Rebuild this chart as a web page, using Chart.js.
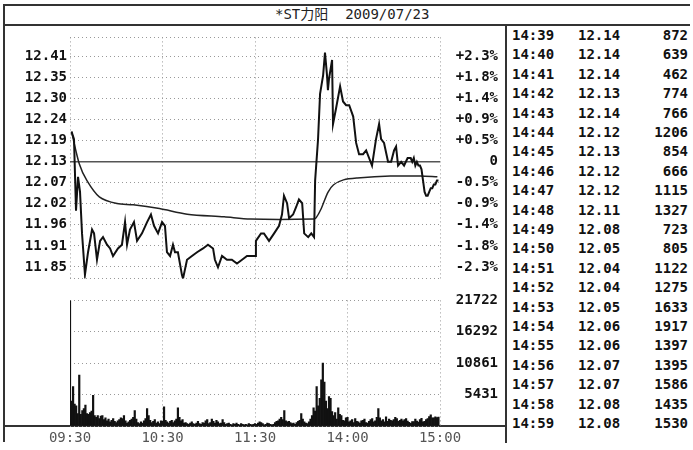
<!DOCTYPE html>
<html>
<head>
<meta charset="utf-8">
<script src="https://cdn.jsdelivr.net/npm/chart.js@4"></script>
<style>
  body { margin: 0; background: #fff; width: 693px; height: 450px; position: relative; overflow: hidden;
         font-family: "DejaVu Sans Mono", "Noto Sans CJK SC", monospace; color: #111; }
  .ln { position: absolute; background: #333; }
  canvas { position: absolute; }
  #priceChart { left: 5px; top: 26px; }
  #volChart { left: 5px; top: 289px; }
  #title { position: absolute; left: 275px; top: 5px; font-size: 14px; line-height: 19px; white-space: pre; color: #222; }
  .row { position: absolute; font-size: 14px; line-height: 18px; height: 18px; font-weight: bold; }
  .row span { position: absolute; white-space: pre; }
</style>
</head>
<body>
<div class="ln" style="left:4px;top:4px;width:686px;height:2px"></div>
<div class="ln" style="left:4px;top:24px;width:686px;height:2px"></div>
<div class="ln" style="left:3px;top:4px;width:2px;height:438px"></div>
<div class="ln" style="left:505px;top:25px;width:2px;height:418px"></div>
<div class="ln" style="left:4px;top:425px;width:502px;height:2px"></div>
<div id="title">*ST力阳  2009/07/23</div>
<canvas id="priceChart" width="500" height="264"></canvas>
<canvas id="volChart" width="500" height="161"></canvas>
<div id="table"></div>
<script>
// previous close and the % step between grid rows
const prevClose = 12.13;
const pctStep = 0.0046;

// tick labels, top to bottom as printed
const priceTickLabels = ['12.41', '12.35', '12.30', '12.24', '12.19', '12.13', '12.07', '12.02', '11.96', '11.91', '11.85'];
const pctTickLabels = ['+2.3%', '+1.8%', '+1.4%', '+0.9%', '+0.5%', '0', '-0.5%', '-0.9%', '-1.4%', '-1.8%', '-2.3%'];
const volTicks = [5431, 10861, 16292, 21722];
const volTickLabels = ['5431', '10861', '16292', '21722'];
const timeTickMinutes = [0, 60, 120, 180, 240];
const timeTickLabels = ['09:30', '10:30', '11:30', '14:00', '15:00'];

// price line (minutes from 09:30, trading time only)
const priceMinutes = [1, 2.6, 3.9, 5.2, 6.5, 7.8, 9.7, 11.7, 14.3, 15.6, 17.5, 19.5, 21.4, 24, 26, 27.9, 31.1, 33.7, 35.7, 37,
  38.9, 41.5, 43.5, 46.7, 50, 52.5, 54.5, 57.1, 59.7, 61.6, 62.9, 64.9, 66.8, 68.1, 70, 72.6, 73.3, 75.9, 79.1, 82.4,
  86.3, 89.5, 92.8, 94, 96, 98.6, 101.8, 105, 108.3, 111.6, 114.8, 118, 120,
  120.6, 123.9, 125.8, 129.1, 132.4, 135.6, 137.5, 138.8, 140.8, 142.1, 144.7, 146.7, 148.5, 150.6, 151.9, 154.5, 156.5, 158.3,
  159, 160.9, 162.2, 164.2, 165.4, 166.7, 167.3, 168, 170, 170.6, 172.5, 175.2, 177.1, 179.1, 181.1, 183.7, 185.6, 187.5,
  190.1, 192.1, 194, 195.9, 198.5, 200.5, 201.8, 203.7, 206.3, 208.3, 210.2, 211.5, 212.8, 214.8, 216.7];
const priceValues = [12.21, 12.19, 12.00, 12.09, 12.05, 11.94, 11.83, 11.89, 11.95, 11.94, 11.87, 11.92, 11.93, 11.91, 11.90, 11.88, 11.90, 11.91, 11.97, 11.91,
  11.95, 11.97, 11.92, 11.94, 11.97, 11.99, 11.96, 11.94, 11.97, 11.96, 11.89, 11.88, 11.91, 11.89, 11.89, 11.83, 11.82, 11.87, 11.88, 11.89,
  11.90, 11.91, 11.90, 11.87, 11.85, 11.88, 11.87, 11.87, 11.86, 11.87, 11.88, 11.88, 11.88,
  11.92, 11.94, 11.94, 11.92, 11.94, 11.96, 11.99, 12.04, 12.02, 11.98, 11.99, 12.01, 12.03, 12.02, 11.94, 11.93, 11.94, 11.93,
  12.08, 12.19, 12.31, 12.36, 12.42, 12.36, 12.32, 12.35, 12.40, 12.23, 12.27, 12.33, 12.29, 12.28, 12.28, 12.25, 12.18, 12.15,
  12.15, 12.16, 12.14, 12.12, 12.19, 12.23, 12.19, 12.18, 12.13, 12.13, 12.16, 12.17, 12.12, 12.13, 12.12];

// average price line
const avgMinutes = [1, 6, 11, 19, 30.5, 41, 58, 76, 100, 117, 158, 159.6, 163, 167.3, 171, 177.4, 186.4, 207.8, 227.3, 238.3];
const avgValues = [12.21, 12.125, 12.08, 12.037, 12.019, 12.016, 12.006, 11.991, 11.984, 11.978, 11.978, 11.981, 12.006, 12.049, 12.069, 12.082, 12.087, 12.092, 12.092, 12.090];

// minute table on the right
const tableTimes = ['14:39', '14:40', '14:41', '14:42', '14:43', '14:44', '14:45', '14:46', '14:47', '14:48', '14:49',
  '14:50', '14:51', '14:52', '14:53', '14:54', '14:55', '14:56', '14:57', '14:58', '14:59'];
const tablePrices = [12.14, 12.14, 12.14, 12.13, 12.14, 12.12, 12.13, 12.12, 12.12, 12.11, 12.08,
  12.05, 12.04, 12.04, 12.05, 12.06, 12.06, 12.07, 12.07, 12.08, 12.08];
const tableVolumes = [872, 639, 462, 774, 766, 1206, 854, 666, 1115, 1327, 723,
  805, 1122, 1275, 1633, 1917, 1397, 1395, 1586, 1435, 1530];

// per-minute volume, 09:30..11:30 and 13:01..14:38
const volMorning = [21722, 4300, 6800, 3800, 3500, 2150, 8800, 2000, 2650, 3000,
  3600, 2150, 2000, 2300, 2600, 5300, 1800, 1500, 1800, 1300,
  1700, 1800, 1100, 1400, 900, 1200, 700, 1000, 1300, 800,
  600, 900, 1100, 1400, 1300, 1800, 900, 500, 700, 1000,
  1200, 1500, 2650, 1200, 600, 400, 700, 500, 900, 1300,
  3000, 1800, 1000, 600, 800, 1100, 500, 700, 400, 900,
  800, 3300, 1000, 700, 500, 800, 1000, 600, 900, 1200,
  3150, 1500, 900, 1100, 500, 600, 400, 300, 500, 700,
  400, 300, 500, 800, 400, 300, 600, 500, 900, 1100,
  400, 600, 1200, 800, 500, 1000, 700, 400, 500, 1100,
  600, 300, 400, 500, 300, 200, 400, 300, 500, 300,
  200, 400, 300, 200, 300, 200, 400, 300, 200, 300, 400];
const volAfternoon = [300, 500, 700, 600, 400, 200, 300, 500, 400, 300,
  200, 300, 600, 800, 900, 1200, 1500, 1100, 2650, 900,
  700, 800, 600, 400, 500, 300, 600, 800, 1000, 2150,
  1200, 700, 500, 400, 700, 1200, 1800, 3150,
  2600, 6800, 3500, 4800, 8000, 10900, 7600, 4300, 3000, 5100, 4800, 2500,
  1800, 2300, 1200, 3150, 2000, 1800, 1000, 900, 1400, 1500,
  700, 900, 1100, 600, 1300, 800, 700, 500, 900, 1000,
  1200, 600, 500, 800, 1100, 1300, 700, 900, 1500, 3000,
  1400, 900, 1100, 700, 1600, 800, 1200, 1000, 900, 1100,
  1500, 1300, 800, 1000, 1200, 900, 1100, 1300];

function toMinute(t) {
  const h = +t.slice(0, 2), m = +t.slice(3, 5);
  return h >= 13 ? 120 + (h - 13) * 60 + m : (h - 9) * 60 + m - 30;
}
const tableMinutes = tableTimes.map(toMinute);

const priceData = priceMinutes.map((m, i) => ({ x: m, y: priceValues[i] }))
  .concat(tableMinutes.map((m, i) => ({ x: m, y: tablePrices[i] })));
const avgData = avgMinutes.map((m, i) => ({ x: m, y: avgValues[i] }));
const volData = volMorning.map((v, i) => ({ x: i, y: v }))
  .concat(volAfternoon.map((v, i) => ({ x: 121 + i, y: v })))
  .concat(tableMinutes.map((m, i) => ({ x: m, y: tableVolumes[i] })));

const levels = [];
for (let k = -5; k <= 5; k++) levels.push(prevClose * (1 + k * pctStep));
const yMin = 11.82, yMax = 12.46;

Chart.defaults.font.family = '"DejaVu Sans Mono", monospace';
Chart.defaults.font.size = 14;
Chart.defaults.color = '#111';
Chart.defaults.animation = false;

const dotted = { color: '#999', lineWidth: 1, drawTicks: false, offset: false };
const boldFont = { weight: 'bold' };

const xScale = (showLabels) => ({
  type: 'linear', min: 0, max: 240, offset: false,
  afterBuildTicks: s => { s.ticks = timeTickMinutes.map(v => ({ value: v })); },
  grid: dotted,
  border: { display: false, dash: [1, 3] },
  ticks: showLabels ? { display: true, color: '#555', padding: 4, autoSkip: false, maxRotation: 0,
    callback: (v, i) => timeTickLabels[i] } : { display: false },
  afterFit: s => { s.height = showLabels ? 24 : 0; }
});

const yTicksBuild = s => {
  s.ticks = [{ value: yMin }].concat(levels.map(v => ({ value: v }))).concat([{ value: yMax }]);
};
const levelLabel = (arr) => (v, i) => (i === 0 || i === 12) ? '' : arr[10 - (i - 1)];

new Chart(document.getElementById('priceChart'), {
  type: 'line',
  data: {
    datasets: [
      { data: priceData, borderColor: '#111', borderWidth: 2, pointRadius: 0, tension: 0 },
      { data: avgData, borderColor: '#222', borderWidth: 1.5, pointRadius: 0, tension: 0.3 },
      { data: [{ x: 0, y: prevClose }, { x: 240, y: prevClose }], borderColor: '#555', borderWidth: 1.5, pointRadius: 0 }
    ]
  },
  options: {
    responsive: false,
    layout: { padding: { top: 6, bottom: 5, right: 7, left: 0 } },
    plugins: { legend: { display: false }, tooltip: { enabled: false } },
    scales: {
      x: xScale(false),
      y: {
        position: 'left', min: yMin, max: yMax,
        afterBuildTicks: yTicksBuild,
        afterFit: s => { s.width = 65; },
        grid: dotted, border: { display: false, dash: [1, 3] },
        ticks: { padding: 3, autoSkip: false, font: boldFont, callback: levelLabel(priceTickLabels) }
      },
      y2: {
        position: 'right', min: yMin, max: yMax,
        afterBuildTicks: yTicksBuild,
        afterFit: s => { s.width = 58; },
        grid: { drawOnChartArea: false, drawTicks: false }, border: { display: false },
        ticks: { crossAlign: 'far', autoSkip: false, font: boldFont, callback: levelLabel(pctTickLabels) }
      }
    }
  }
});

new Chart(document.getElementById('volChart'), {
  type: 'bar',
  data: {
    datasets: [{ data: volData, backgroundColor: '#111', barPercentage: 1, categoryPercentage: 1 }]
  },
  options: {
    responsive: false,
    layout: { padding: { top: 6, bottom: 0, right: 7, left: 65 } },
    plugins: { legend: { display: false }, tooltip: { enabled: false } },
    scales: {
      x: xScale(true),
      y: {
        position: 'right', min: 0, max: 21722,
        afterBuildTicks: s => { s.ticks = [{ value: 0 }].concat(volTicks.map(v => ({ value: v }))); },
        afterFit: s => { s.width = 58; },
        grid: dotted, border: { display: false, dash: [1, 3] },
        ticks: { crossAlign: 'far', autoSkip: false, font: boldFont, callback: (v, i) => i === 0 ? '' : volTickLabels[i - 1] }
      }
    }
  }
});

// right-hand minute table
const table = document.getElementById('table');
tableTimes.forEach((t, i) => {
  const row = document.createElement('div');
  row.className = 'row';
  row.style.top = (26 + i * 19.4) + 'px';
  row.style.left = '0px';
  row.innerHTML = '<span style="left:512px">' + t + '</span>' +
    '<span style="left:578px">' + tablePrices[i].toFixed(2) + '</span>' +
    '<span style="left:600px;width:88px;text-align:right">' + tableVolumes[i] + '</span>';
  table.appendChild(row);
});
</script>
</body>
</html>
